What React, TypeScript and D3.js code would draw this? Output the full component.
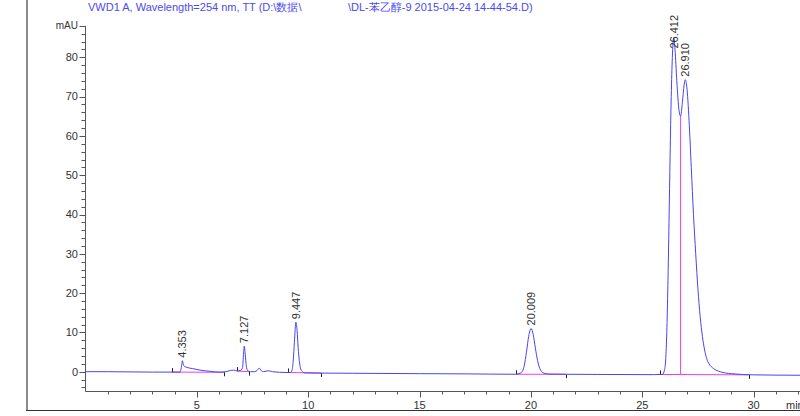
import * as d3 from 'd3';

// signal trace: [time (min), mAU]
const trace: [number, number][] = [
  [0.0, 0.0], [1.0, 0.0], [2.0, -0.05], [3.0, -0.1], [3.9, -0.1], [4.25, -0.1],
  [4.3, 1.0], [4.353, 2.8], [4.4, 1.6], [4.55, 1.1], [4.8, 0.8], [5.15, 0.4],
  [5.6, 0.1], [6.0, -0.1], [6.3, 0.0], [6.5, 0.3], [6.65, 0.4], [6.8, 0.2],
  [6.95, 0.3], [7.05, 1.0], [7.09, 4.0], [7.127, 6.5], [7.17, 4.5], [7.22, 1.5],
  [7.28, 0.3], [7.4, 0.0], [7.6, 0.0], [7.7, 0.3], [7.8, 0.9], [7.9, 0.2],
  [8.0, 0.0], [8.2, 0.25], [8.4, 0.0], [9.0, -0.2], [9.2, -0.2], [9.28, 0.5],
  [9.33, 3.0], [9.38, 7.5], [9.447, 12.6], [9.5, 10.5], [9.55, 6.0], [9.6, 2.8],
  [9.65, 1.0], [9.72, 0.1], [9.85, -0.3], [10.5, -0.35], [12.0, -0.4], [15.0, -0.5],
  [17.0, -0.55], [19.3, -0.65], [19.55, -0.3], [19.7, 1.5], [19.8, 5.0], [19.9, 9.0],
  [20.009, 11.0], [20.1, 9.5], [20.2, 6.0], [20.3, 2.8], [20.4, 0.8], [20.55, -0.3],
  [20.8, -0.6], [21.5, -0.65], [23.0, -0.7], [25.5, -0.75], [25.9, -0.7], [26.0, 0.5],
  [26.05, 3], [26.1, 10], [26.15, 22], [26.2, 38], [26.25, 55], [26.3, 70],
  [26.35, 80], [26.412, 85], [26.47, 82], [26.55, 74], [26.65, 66.5], [26.72, 65],
  [26.8, 68.5], [26.88, 73], [26.93, 74.3], [27.0, 72.5], [27.1, 64], [27.2, 52],
  [27.3, 40], [27.4, 30], [27.5, 21], [27.6, 14], [27.7, 9], [27.8, 5.5],
  [27.9, 3.2], [28.0, 2.0], [28.2, 0.8], [28.5, 0.0], [29.0, -0.5], [30.0, -0.8],
  [32.1, -0.9],
];

const peakTimes = [4.353, 7.127, 9.447, 20.009, 26.412, 26.91];
const peakLabels = ['4.353', '7.127', '9.447', '20.009', '26.412', '26.910'];
const peakHeights = [2.8, 6.5, 12.6, 11.0, 85, 74.3];

// integration baselines: [start min, start mAU, end min, end mAU]
const baselines: [number, number, number, number][] = [
  [3.87, -0.1, 6.24, -0.15],
  [6.82, 0.15, 7.36, 0.0],
  [9.11, -0.2, 10.58, -0.35],
  [19.33, -0.65, 21.56, -0.65],
  [25.8, -0.7, 29.77, -0.8],
];
const dropTime = 26.72;
const dropTop = 65;

const yMajor = [0, 10, 20, 30, 40, 50, 60, 70, 80];
const xMajor = [5, 10, 15, 20, 25, 30];

const titleLeft = 'VWD1 A, Wavelength=254 nm, TT (D:\\数据\\';
const titleRight = '\\DL-苯乙醇-9 2015-04-24 14-44-54.D)';

const font = 'Liberation Sans, Arial, sans-serif';

export default function App() {
  const width = 800;
  const height = 416;

  const x = d3.scaleLinear().domain([0, 32.1]).range([85.5, 800.4]);
  const y = d3.scaleLinear().domain([-5, 88]).range([391.35, 25.9]);

  const line = d3
    .line<[number, number]>()
    .x((d) => x(d[0]))
    .y((d) => y(d[1]))
    .curve(d3.curveMonotoneX);

  const axisX = 85.5;
  const axisY = 391.5;

  const yMinor = d3.range(-4, 89, 2).filter((v) => v % 10 !== 0 && v !== 88);
  const xMinor = d3.range(1, 33, 1).filter((v) => v % 5 !== 0);

  return (
    <svg
      width={width}
      height={height}
      style={{ position: 'absolute', left: 0, top: 0, background: '#fff' }}
      fontFamily={font}
    >
      {/* outer frame */}
      <line x1={27} y1={0} x2={27} y2={411} stroke='#8a8a8a' strokeWidth={2} />
      <line x1={26} y1={410.5} x2={800} y2={410.5} stroke='#333' strokeWidth={1} />

      {/* title */}
      <text x={88} y={10.5} fontSize={11} fill='#4a4af5'>{titleLeft}</text>
      <text x={348} y={10.5} fontSize={11} fill='#4a4af5'>{titleRight}</text>

      {/* y axis */}
      <line x1={axisX} y1={y(88)} x2={axisX} y2={axisY} stroke='#555' />
      {yMajor.map((v) => (
        <g key={'ym' + v}>
          <line x1={axisX - 6} x2={axisX} y1={Math.round(y(v)) + 0.5} y2={Math.round(y(v)) + 0.5} stroke='#555' />
          <text x={78} y={y(v)} dy='0.35em' textAnchor='end' fontSize={11} fill='#333'>{v}</text>
        </g>
      ))}
      {yMinor.map((v) => (
        <line key={'yn' + v} x1={axisX - 4} x2={axisX} y1={Math.round(y(v)) + 0.5} y2={Math.round(y(v)) + 0.5} stroke='#555' />
      ))}
      <line x1={axisX - 6} x2={axisX} y1={Math.round(y(88)) + 0.5} y2={Math.round(y(88)) + 0.5} stroke='#555' />
      <text x={78} y={y(88)} dy='0.35em' textAnchor='end' fontSize={10} fill='#333'>mAU</text>

      {/* x axis */}
      <line x1={axisX} y1={axisY} x2={800} y2={axisY} stroke='#555' />
      {xMajor.map((v) => (
        <g key={'xm' + v}>
          <line x1={Math.round(x(v)) + 0.5} x2={Math.round(x(v)) + 0.5} y1={axisY} y2={axisY + 6} stroke='#555' />
          <text x={x(v)} y={409} textAnchor='middle' fontSize={11} fill='#333'>{v}</text>
        </g>
      ))}
      {xMinor.map((v) => (
        <line key={'xn' + v} x1={Math.round(x(v)) + 0.5} x2={Math.round(x(v)) + 0.5} y1={axisY} y2={axisY + 3} stroke='#555' />
      ))}
      <text x={786} y={409} fontSize={11} fill='#333'>min</text>

      {/* integration baselines */}
      {baselines.map((b, i) => (
        <g key={'bl' + i}>
          <line x1={x(b[0])} y1={y(b[1])} x2={x(b[2])} y2={y(b[3])} stroke='#f03cf0' strokeWidth={1} />
          <line x1={Math.round(x(b[0])) + 0.5} x2={Math.round(x(b[0])) + 0.5} y1={y(b[1])} y2={y(b[1]) - 4} stroke='#222' />
          <line x1={Math.round(x(b[2])) + 0.5} x2={Math.round(x(b[2])) + 0.5} y1={y(b[3])} y2={y(b[3]) + 4} stroke='#222' />
        </g>
      ))}
      <line x1={x(dropTime)} x2={x(dropTime)} y1={y(-0.72)} y2={y(dropTop)} stroke='#f03cf0' strokeWidth={1} />

      {/* signal */}
      <path d={line(trace) ?? ''} fill='none' stroke='#4646f0' strokeWidth={1} />

      {/* peak labels */}
      {peakTimes.map((t, i) => {
        const len = peakLabels[i].length * 5.6;
        const bottom = Math.max(y(peakHeights[i]) - 3, 15 + len);
        return (
          <text
            key={'pl' + i}
            transform={`translate(${x(t)},${bottom}) rotate(-90)`}
            dy='0.35em'
            fontSize={11}
            fill='#333'
          >
            {peakLabels[i]}
          </text>
        );
      })}
    </svg>
  );
}
